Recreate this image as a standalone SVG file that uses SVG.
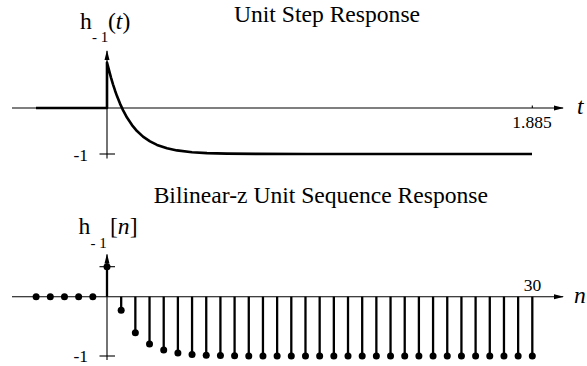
<svg xmlns="http://www.w3.org/2000/svg" width="587" height="366" viewBox="0 0 587 366" font-family="'Liberation Serif', 'Times New Roman', serif">
<style>
text{font-family:'Liberation Serif','Times New Roman',serif;fill:#000}
.title{font-size:23.6px}
.lbl{font-size:23.6px}
.sub{font-size:15px}
.num{font-size:17.5px}
.it{font-style:italic}
.axis{stroke:#000;stroke-width:1.1;fill:none}
.thick{stroke:#000;stroke-width:2.6;fill:none;stroke-linejoin:round}
.stem{stroke:#000;stroke-width:2.3}
.dot{fill:#000}
</style>
<defs>
<marker id="arr" markerUnits="userSpaceOnUse" markerWidth="10" markerHeight="6" refX="9" refY="3" orient="auto">
<path d="M0,0.5 L10,3 L0,5.5 Z" fill="#000"/>
</marker>
</defs>

<g id="top-plot">
<text class="title" x="327" y="22" text-anchor="middle">Unit Step Response</text>
<g id="top-axes">
<line class="axis" x1="12" y1="108" x2="563" y2="108" marker-end="url(#arr)"/>
<line class="axis" x1="107" y1="158.5" x2="107" y2="51" marker-end="url(#arr)"/>
<line class="axis" x1="99.5" y1="154" x2="115" y2="154"/>
<line class="axis" x1="532.3" y1="105.5" x2="532.3" y2="108"/>
</g>
<g id="top-labels">
<text class="lbl" x="80" y="29">h</text>
<text class="sub" x="92" y="41.5">- 1</text>
<text class="lbl" x="108" y="29">(<tspan class="it">t</tspan>)</text>
<text class="num" x="88" y="160.5" text-anchor="end">-1</text>
<text class="num" x="532" y="128" text-anchor="middle">1.885</text>
<text class="lbl it" x="577" y="114.3">t</text>
</g>
<path id="step-curve" class="thick" d="M36,108 L107,108 L107,62.5 L109,70.13 L111,77.55 L113,84.31 L115,90.47 L117,96.09 L120,103.6 L123,110.13 L127,117.55 L132,125.08 L137,131.05 L143,136.62 L150,141.43 L157,144.91 L167,148.28 L177,150.4 L192,152.2 L207,153.1 L227,153.64 L257,153.91 L307,154 L532,154"/>
</g>

<g id="bottom-plot">
<text class="title" x="320.8" y="203" text-anchor="middle">Bilinear-z Unit Sequence Response</text>
<g id="bottom-axes">
<line class="axis" x1="12" y1="296.7" x2="563" y2="296.7" marker-end="url(#arr)"/>
<line class="axis" x1="107" y1="360" x2="107" y2="254.5" marker-end="url(#arr)"/>
<line class="axis" x1="99.5" y1="266.7" x2="115" y2="266.7"/>
<line class="axis" x1="99.5" y1="356" x2="115" y2="356"/>
</g>
<g id="bottom-labels">
<text class="lbl" x="78.5" y="234">h</text>
<text class="sub" x="90.5" y="247.5">- 1</text>
<text class="lbl" x="110" y="234">[<tspan class="it">n</tspan>]</text>
<text class="num" x="88" y="362" text-anchor="end">-1</text>
<text class="num" x="532.5" y="291" text-anchor="middle">30</text>
<text class="lbl it" x="574" y="303">n</text>
</g>
<g id="stems">
<line class="stem" x1="107" y1="296.7" x2="107" y2="266.7"/>
<line class="stem" x1="121.18" y1="296.7" x2="121.18" y2="310.3"/>
<line class="stem" x1="135.35" y1="296.7" x2="135.35" y2="332.7"/>
<line class="stem" x1="149.53" y1="296.7" x2="149.53" y2="344.1"/>
<line class="stem" x1="163.71" y1="296.7" x2="163.71" y2="349.9"/>
<line class="stem" x1="177.89" y1="296.7" x2="177.89" y2="352.9"/>
<line class="stem" x1="192.06" y1="296.7" x2="192.06" y2="354.4"/>
<line class="stem" x1="206.24" y1="296.7" x2="206.24" y2="355.2"/>
<line class="stem" x1="220.42" y1="296.7" x2="220.42" y2="355.6"/>
<line class="stem" x1="234.59" y1="296.7" x2="234.59" y2="355.8"/>
<line class="stem" x1="248.77" y1="296.7" x2="248.77" y2="356"/>
<line class="stem" x1="262.95" y1="296.7" x2="262.95" y2="356"/>
<line class="stem" x1="277.12" y1="296.7" x2="277.12" y2="356"/>
<line class="stem" x1="291.3" y1="296.7" x2="291.3" y2="356"/>
<line class="stem" x1="305.48" y1="296.7" x2="305.48" y2="356"/>
<line class="stem" x1="319.66" y1="296.7" x2="319.66" y2="356"/>
<line class="stem" x1="333.83" y1="296.7" x2="333.83" y2="356"/>
<line class="stem" x1="348.01" y1="296.7" x2="348.01" y2="356"/>
<line class="stem" x1="362.19" y1="296.7" x2="362.19" y2="356"/>
<line class="stem" x1="376.36" y1="296.7" x2="376.36" y2="356"/>
<line class="stem" x1="390.54" y1="296.7" x2="390.54" y2="356"/>
<line class="stem" x1="404.72" y1="296.7" x2="404.72" y2="356"/>
<line class="stem" x1="418.89" y1="296.7" x2="418.89" y2="356"/>
<line class="stem" x1="433.07" y1="296.7" x2="433.07" y2="356"/>
<line class="stem" x1="447.25" y1="296.7" x2="447.25" y2="356"/>
<line class="stem" x1="461.43" y1="296.7" x2="461.43" y2="356"/>
<line class="stem" x1="475.6" y1="296.7" x2="475.6" y2="356"/>
<line class="stem" x1="489.78" y1="296.7" x2="489.78" y2="356"/>
<line class="stem" x1="503.96" y1="296.7" x2="503.96" y2="356"/>
<line class="stem" x1="518.13" y1="296.7" x2="518.13" y2="356"/>
<line class="stem" x1="532.31" y1="296.7" x2="532.31" y2="356"/>
</g>
<g id="dots">
<circle class="dot" cx="36.12" cy="296.7" r="3.5"/>
<circle class="dot" cx="50.29" cy="296.7" r="3.5"/>
<circle class="dot" cx="64.47" cy="296.7" r="3.5"/>
<circle class="dot" cx="78.65" cy="296.7" r="3.5"/>
<circle class="dot" cx="92.82" cy="296.7" r="3.5"/>
<circle class="dot" cx="107" cy="266.7" r="3.5"/>
<circle class="dot" cx="121.18" cy="310.3" r="3.5"/>
<circle class="dot" cx="135.35" cy="332.7" r="3.5"/>
<circle class="dot" cx="149.53" cy="344.1" r="3.5"/>
<circle class="dot" cx="163.71" cy="349.9" r="3.5"/>
<circle class="dot" cx="177.89" cy="352.9" r="3.5"/>
<circle class="dot" cx="192.06" cy="354.4" r="3.5"/>
<circle class="dot" cx="206.24" cy="355.2" r="3.5"/>
<circle class="dot" cx="220.42" cy="355.6" r="3.5"/>
<circle class="dot" cx="234.59" cy="355.8" r="3.5"/>
<circle class="dot" cx="248.77" cy="356" r="3.5"/>
<circle class="dot" cx="262.95" cy="356" r="3.5"/>
<circle class="dot" cx="277.12" cy="356" r="3.5"/>
<circle class="dot" cx="291.3" cy="356" r="3.5"/>
<circle class="dot" cx="305.48" cy="356" r="3.5"/>
<circle class="dot" cx="319.66" cy="356" r="3.5"/>
<circle class="dot" cx="333.83" cy="356" r="3.5"/>
<circle class="dot" cx="348.01" cy="356" r="3.5"/>
<circle class="dot" cx="362.19" cy="356" r="3.5"/>
<circle class="dot" cx="376.36" cy="356" r="3.5"/>
<circle class="dot" cx="390.54" cy="356" r="3.5"/>
<circle class="dot" cx="404.72" cy="356" r="3.5"/>
<circle class="dot" cx="418.89" cy="356" r="3.5"/>
<circle class="dot" cx="433.07" cy="356" r="3.5"/>
<circle class="dot" cx="447.25" cy="356" r="3.5"/>
<circle class="dot" cx="461.43" cy="356" r="3.5"/>
<circle class="dot" cx="475.6" cy="356" r="3.5"/>
<circle class="dot" cx="489.78" cy="356" r="3.5"/>
<circle class="dot" cx="503.96" cy="356" r="3.5"/>
<circle class="dot" cx="518.13" cy="356" r="3.5"/>
<circle class="dot" cx="532.31" cy="356" r="3.5"/>
</g>
</g>
</svg>
